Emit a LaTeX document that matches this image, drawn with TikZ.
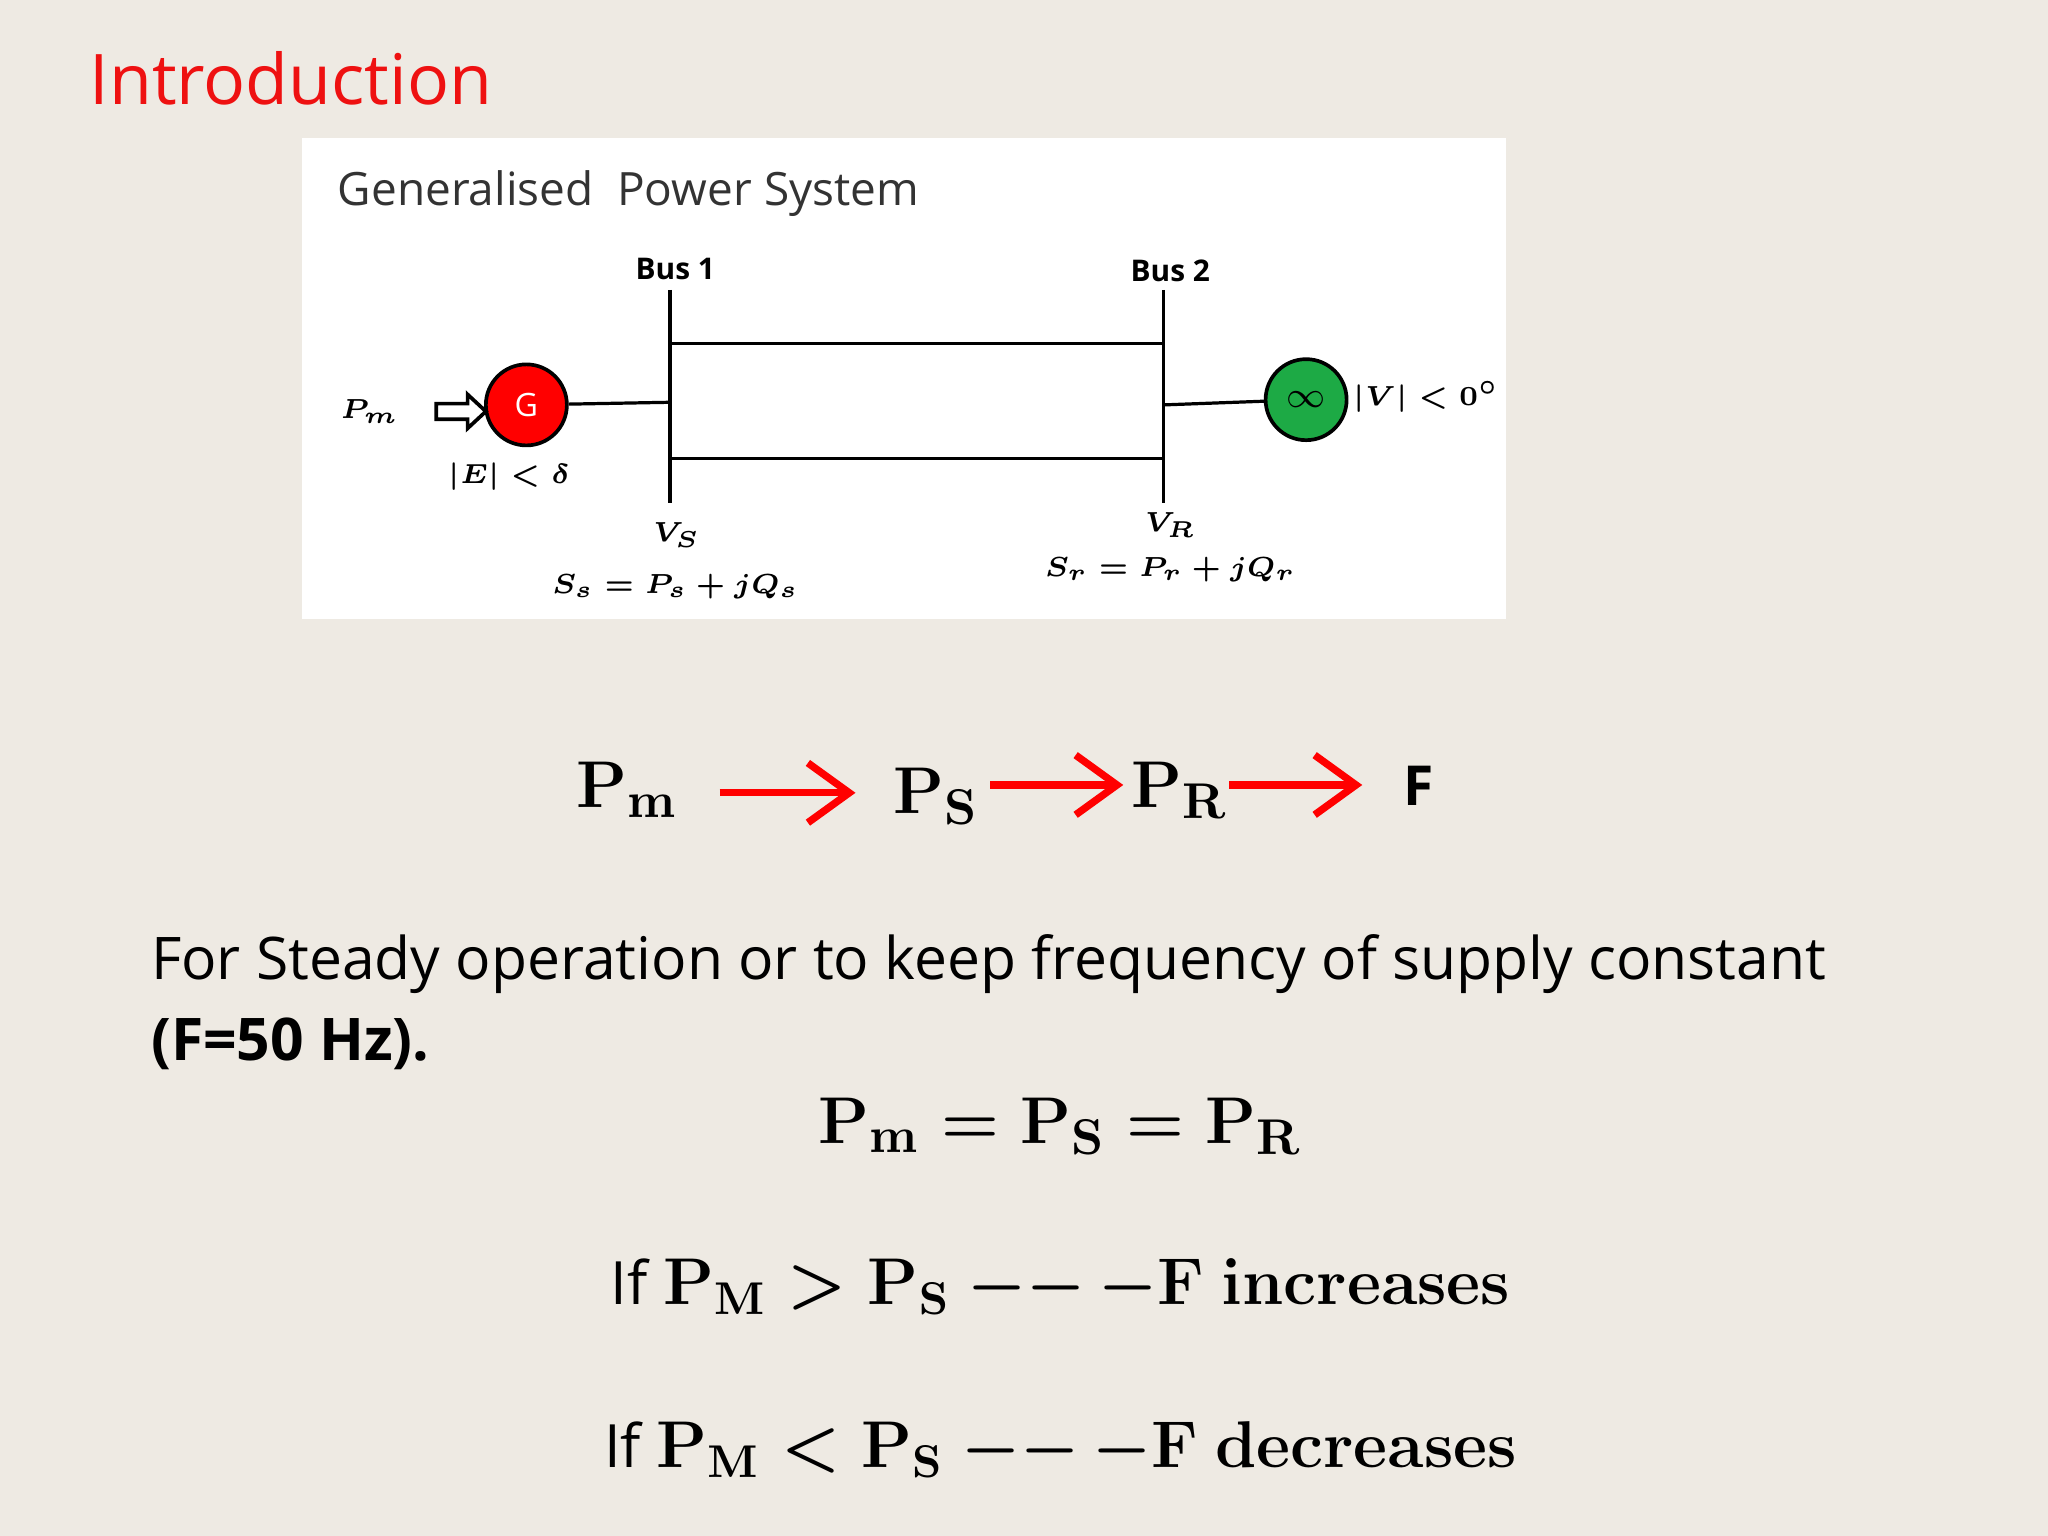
\documentclass[tikz,border=0pt]{standalone}
\usepackage{amsmath}
\usepackage[no-math]{fontspec}
\setmainfont{Open Sans}
\usetikzlibrary{arrows.meta}
\definecolor{bg}{HTML}{EEEAE3}
\definecolor{gred}{HTML}{EE1111}
\definecolor{ggreen}{HTML}{1DAA45}
\tikzset{
 lbl/.style={font=\boldmath\fontsize{6.5}{8}\selectfont},
 busl/.style={font=\bfseries\fontsize{6.5}{8}\selectfont},
 bigm/.style={font=\boldmath\fontsize{15}{18}\selectfont},
 redarr/.style={draw=red,line width=1.6pt,-{Straight Barb[length=9pt,width=13pt,line width=1.6pt]}},
 wire/.style={line width=0.7pt},
}
\begin{document}
\begin{tikzpicture}[x=0.01cm,y=-0.01cm]
\fill[bg] (0,0) rectangle (1568,1176);
\node[anchor=base west,text=gred,font=\fontsize{15.2}{18}\selectfont,inner sep=0] (title) at (68,80) {Introduction};
\fill[white] (231,106) rectangle (1153,474);
\node[anchor=base west,inner sep=0,font=\fontsize{10}{12}\selectfont,text=black!80] (gps) at (258,157) {Generalised\ \ Power System};
% buses
\coordinate (b1t) at (513,222); \coordinate (b1b) at (513,385);
\coordinate (b2t) at (891,222); \coordinate (b2b) at (891,385);
\draw[wire] (b1t) -- (b1b); \draw[wire] (b2t) -- (b2b);
\coordinate (l1a) at (513,263); \coordinate (l1b) at (891,263);
\coordinate (l2a) at (513,351); \coordinate (l2b) at (891,351);
\draw[wire] (l1a) -- (l1b); \draw[wire] (l2a) -- (l2b);
\node[busl] (bus1) at (517,206) {Bus 1};
\node[busl] (bus2) at (896,207) {Bus 2};
\node[circle,draw,line width=0.8pt,fill=red,minimum size=0.62cm,inner sep=0,text=white,font=\fontsize{7}{8}\selectfont] (G) at (403,310) {G};
\node[circle,draw,line width=0.8pt,fill=ggreen,minimum size=0.62cm,inner sep=0,font=\fontsize{8}{8}\selectfont] (inf) at (1000,306) {$\infty$};
\coordinate (j1) at (513,308); \coordinate (j2) at (891,310);
\draw[wire] (G) -- (j1); \draw[wire] (j2) -- (inf);
% hollow block arrow
\draw[line width=0.8pt,fill=white] (334,309) -- (358,309) -- (358,302) -- (372,315) -- (358,328) -- (358,321) -- (334,321) -- cycle;
\node[lbl] (pm) at (283,315) {$P_m$};
\node[lbl] (E) at (390,365) {$|E|<\delta$};
\node[lbl] (V) at (1092,304) {$|V|<0^\circ$};
\node[lbl] (vs) at (518,410) {$V_S$};
\node[lbl] (ss) at (517,449) {$S_s=P_s+jQ_s$};
\node[lbl] (vr) at (896,402) {$V_R$};
\node[lbl] (sr) at (896,436) {$S_r=P_r+jQ_r$};
% chain
\node[bigm] (c1) at (480,605) {$\mathbf{P_m}$};
\node[bigm] (c2) at (717,610) {$\mathbf{P_S}$};
\node[bigm] (c3) at (903,605) {$\mathbf{P_R}$};
\node[font=\bfseries\fontsize{12}{14}\selectfont] (c4) at (1086,602) {F};
\coordinate (a1s) at (551,607); \coordinate (a1e) at (655,607);
\coordinate (a2s) at (758,601); \coordinate (a2e) at (860,601);
\coordinate (a3s) at (941,601); \coordinate (a3e) at (1043,601);
\draw[redarr] (a1s) -- (a1e);
\draw[redarr] (a2s) -- (a2e);
\draw[redarr] (a3s) -- (a3e);
\node[anchor=base west,inner sep=0,font=\fontsize{12.8}{15}\selectfont] (t1) at (115,750) {For Steady operation or to keep frequency of supply constant};
\node[anchor=base west,inner sep=0,font=\bfseries\fontsize{12.8}{15}\selectfont] (t2) at (115,812) {(F=50 Hz).};
\node[bigm] (eq1) at (812,862) {$\mathbf{P_m} = \mathbf{P_S} = \mathbf{P_R}$};
\node[bigm] (eq2) at (812,985) {\fontsize{13}{15}\selectfont If \fontsize{14.5}{18}\selectfont$\mathbf{P_M} > \mathbf{P_S}\ {-}{-}\,{-}\mathbf{F\ increases}$};
\node[bigm] (eq3) at (812,1110) {\fontsize{13}{15}\selectfont If \fontsize{14.5}{18}\selectfont$\mathbf{P_M} < \mathbf{P_S}\ {-}{-}\,{-}\mathbf{F\ decreases}$};
\end{tikzpicture}
\end{document}
